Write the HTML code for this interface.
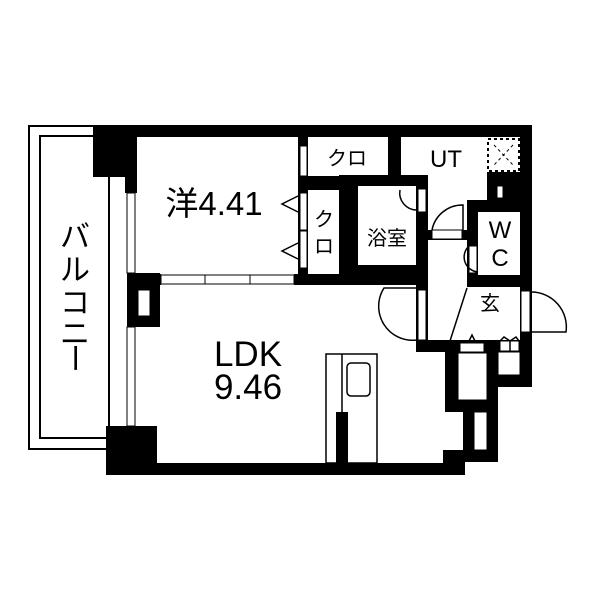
<!DOCTYPE html>
<html><head><meta charset="utf-8"><style>
html,body{margin:0;padding:0;background:#fff;width:600px;height:600px;overflow:hidden}
text{font-family:"Liberation Sans","Noto Sans CJK JP",sans-serif;fill:#000}
</style></head><body>
<svg width="600" height="600" viewBox="0 0 600 600" xmlns="http://www.w3.org/2000/svg">
<!-- balcony -->
<rect x="29" y="126" width="80" height="323" fill="none" stroke="#000" stroke-width="2"/>
<rect x="40" y="136" width="70" height="302" fill="none" stroke="#000" stroke-width="2"/>
<rect x="110" y="137" width="10" height="300" fill="#fff"/>
<text x="75" y="247" font-size="30" text-anchor="middle">バ</text>
<text x="75" y="280" font-size="30" text-anchor="middle">ル</text>
<text x="75" y="313" font-size="30" text-anchor="middle">コ</text>
<text x="75" y="344" font-size="30" text-anchor="middle">ニ</text>
<text x="0" y="0" font-size="30" text-anchor="middle" transform="translate(64,358) rotate(90)">ー</text>

<g fill="#000">
<rect x="93" y="125" width="439" height="12"/>
<rect x="93" y="125" width="44" height="52"/>
<rect x="125" y="125" width="12" height="68"/>
<rect x="127" y="273" width="33" height="54"/>
<rect x="106" y="426" width="51" height="49"/>
<rect x="106" y="463" width="350" height="12"/>
<rect x="137" y="274" width="24" height="11"/>
<rect x="294" y="274" width="134" height="11"/>
<rect x="298" y="137" width="10" height="148"/>
<rect x="298" y="176" width="60" height="14"/>
<rect x="339" y="176" width="19" height="109"/>
<rect x="339" y="175" width="77" height="11"/>
<rect x="339" y="265" width="89" height="20"/>
<rect x="388" y="137" width="13" height="40"/>
<rect x="416" y="175" width="12" height="110"/>
<rect x="487" y="172" width="33" height="28"/>
<rect x="467" y="200" width="65" height="12"/>
<rect x="467" y="200" width="11" height="87"/>
<rect x="467" y="275" width="65" height="12"/>
<rect x="520" y="125" width="12" height="262"/>
<rect x="428" y="230" width="39" height="10"/>
<rect x="416" y="285" width="12" height="67"/>
<rect x="416" y="340" width="82" height="12"/>
<rect x="445" y="342" width="53" height="70"/>
<rect x="463" y="400" width="35" height="62"/>
<rect x="443" y="450" width="22" height="25"/>
<rect x="455" y="450" width="10" height="12"/>
<rect x="498" y="340" width="34" height="47"/>
<rect x="336" y="412" width="12" height="51"/>
</g>
<g fill="#fff" stroke="#000" stroke-width="1">
<rect x="127" y="193" width="8" height="80"/>
<rect x="127" y="327" width="8" height="99"/>
<rect x="138" y="290" width="12" height="26"/>
<rect x="161" y="275" width="44" height="9"/>
<rect x="205" y="275" width="45" height="9"/>
<rect x="250" y="275" width="44" height="9"/>
<rect x="300" y="146" width="7" height="30"/>
<rect x="300" y="193" width="7" height="37"/>
<rect x="300" y="231" width="7" height="37"/>
<rect x="418" y="189" width="8" height="23"/>
<rect x="497" y="186" width="6" height="12"/>
<rect x="469" y="246" width="8" height="27"/>
<rect x="432" y="230" width="30" height="9"/>
<rect x="418" y="290" width="8" height="50"/>
<rect x="521" y="291" width="9" height="41"/>
<rect x="458" y="353" width="29" height="47"/>
<rect x="474" y="412" width="13" height="38"/>
<rect x="498" y="352" width="22" height="23"/>
<rect x="460" y="343" width="24" height="9"/>
<rect x="500" y="341" width="19" height="10"/>
</g>
<rect x="488" y="139" width="31" height="32" fill="none" stroke="#000" stroke-width="2" stroke-dasharray="3,3"/>
<line x1="494" y1="145" x2="513" y2="165" stroke="#000" stroke-dasharray="3,3"/>
<line x1="513" y1="145" x2="494" y2="165" stroke="#000" stroke-dasharray="3,3"/>
<g fill="none" stroke="#000" stroke-width="1.5">
<path d="M298,196 L282,204 L298,212"/>
<path d="M298,243 L282,251 L298,259"/>
<path d="M400,190 A17,17 0 0 0 417,210"/>
<path d="M432,230 A31,31 0 0 1 463,205 L463,230"/>
<path d="M468,247 A15,15 0 0 0 478,272"/>
<path d="M417,340 A34,34 0 0 1 384,288 L417,288"/>
<path d="M531,292 A35,35 0 0 1 566,332 L531,332"/>
<line x1="450" y1="341" x2="467" y2="288"/>
<path d="M468,343 L472,335 L476,343"/>
<path d="M500,341 L504,337 L510,341 L516,337 L519,341 M510,341 L510,351"/>
<rect x="326" y="354" width="51" height="109"/>
<line x1="342" y1="354" x2="342" y2="463"/>
<rect x="347" y="363" width="23" height="33" rx="4"/>
</g>
<text x="214" y="215" font-size="33" text-anchor="middle">洋4.41</text>
<text x="347" y="165" font-size="20" text-anchor="middle">クロ</text>
<text x="324" y="226" font-size="20" text-anchor="middle">ク</text>
<text x="324" y="253" font-size="20" text-anchor="middle">ロ</text>
<text x="387" y="245" font-size="20" text-anchor="middle">浴室</text>
<text x="446" y="167" font-size="24" text-anchor="middle">UT</text>
<text x="500" y="238" font-size="24" text-anchor="middle">W</text>
<text x="500" y="266" font-size="24" text-anchor="middle">C</text>
<text x="490" y="310" font-size="20" text-anchor="middle">玄</text>
<text x="248" y="366" font-size="35" text-anchor="middle">LDK</text>
<text x="248" y="399" font-size="35" text-anchor="middle">9.46</text>
</svg>
</body></html>
